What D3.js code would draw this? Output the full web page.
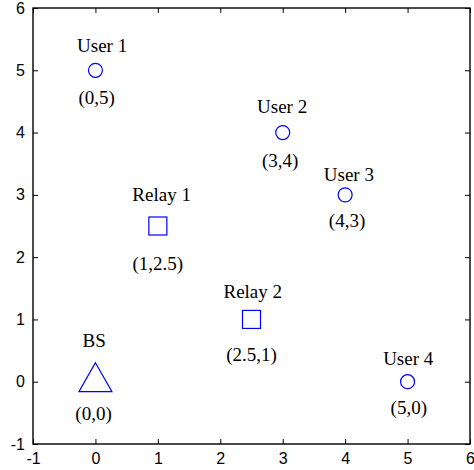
<!DOCTYPE html>
<html><head><meta charset="utf-8">
<script src="https://cdn.jsdelivr.net/npm/d3@7"></script>
<style>body{margin:0;background:#fff}svg{display:block}</style>
</head><body>
<svg id="c" width="474" height="470"></svg>
<script>
// Data
const nodeNames  = ["User 1","User 2","User 3","User 4","BS","Relay 1","Relay 2"];
const nodeX      = [0, 3, 4, 5, 0, 1, 2.5];
const nodeY      = [5, 4, 3, 0, 0, 2.5, 1];
const nodeType   = ["user","user","user","user","bs","relay","relay"];
const coordText  = ["(0,5)","(3,4)","(4,3)","(5,0)","(0,0)","(1,2.5)","(2.5,1)"];
// annotation anchor positions (data units), as placed with text() in the original
const nameLabelX  = [0.107, 2.99, 4.06, 5.01, -0.02, 1.06, 2.52];
const nameLabelY  = [5.29, 4.31, 3.22, 0.27, 0.55, 2.905, 1.34];
const coordLabelX = [0.02, 2.96, 4.03, 5.02, -0.03, 1.0, 2.50];
const coordLabelY = [4.46, 3.44, 2.49, -0.52, -0.61, 1.79, 0.34];
const xTicks = [-1,0,1,2,3,4,5,6];
const yTicks = [-1,0,1,2,3,4,5,6];

const svg = d3.select("#c");
const L = 33, R = 470, T = 8, B = 444;
const x = d3.scaleLinear().domain([-1,6]).range([L,R]);
const y = d3.scaleLinear().domain([-1,6]).range([B,T]);

const tickFont = "Liberation Sans, Arial, sans-serif";
const serif = "Liberation Serif, Times New Roman, serif";

const gx = svg.append("g").attr("transform",`translate(0,${B})`)
  .call(d3.axisBottom(x).tickValues(xTicks).tickSize(-5).tickPadding(9).tickFormat(d=>String(d)));
const gxt = svg.append("g").attr("transform",`translate(0,${T})`)
  .call(d3.axisTop(x).tickValues(xTicks).tickSize(-5).tickFormat(""));
const gy = svg.append("g").attr("transform",`translate(${L},0)`)
  .call(d3.axisLeft(y).tickValues(yTicks).tickSize(-5).tickPadding(8).tickFormat(d=>String(d)));
const gyr = svg.append("g").attr("transform",`translate(${R},0)`)
  .call(d3.axisRight(y).tickValues(yTicks).tickSize(-5).tickFormat(""));
[gx,gxt,gy,gyr].forEach(g=>{
  g.select(".domain").remove();
  g.selectAll("line").attr("stroke","#000").attr("stroke-width",1);
  g.selectAll("text").attr("font-family",tickFont).attr("font-size",16).attr("fill","#000");
});
svg.append("rect").attr("x",L).attr("y",T).attr("width",R-L).attr("height",B-T)
  .attr("fill","none").attr("stroke","#000").attr("stroke-width",1.4);

const blue = "#0000ff";
const data = nodeNames.map((n,i)=>({n, x:nodeX[i], y:nodeY[i], t:nodeType[i], c:coordText[i],
  nx:nameLabelX[i], ny:nameLabelY[i], cx:coordLabelX[i], cy:coordLabelY[i]}));

const g = svg.append("g");
data.forEach(d=>{
  const px = x(d.x), py = y(d.y);
  if (d.t==="user") {
    g.append("circle").attr("cx",px).attr("cy",py).attr("r",7)
      .attr("fill","none").attr("stroke",blue).attr("stroke-width",1.2);
  } else if (d.t==="relay") {
    g.append("rect").attr("x",px-9).attr("y",py-9).attr("width",18).attr("height",18)
      .attr("fill","none").attr("stroke",blue).attr("stroke-width",1.2);
  } else {
    g.append("path").attr("d",`M${px},${py-19}L${px+16.5},${py+10}L${px-16.5},${py+10}Z`)
      .attr("fill","none").attr("stroke",blue).attr("stroke-width",1.2);
  }
  g.append("text").attr("x",x(d.nx)).attr("y",y(d.ny)).attr("text-anchor","middle")
    .attr("font-family",serif).attr("font-size",19).attr("fill","#000").text(d.n);
  g.append("text").attr("x",x(d.cx)).attr("y",y(d.cy)).attr("text-anchor","middle")
    .attr("font-family",serif).attr("font-size",19).attr("fill","#000").text(d.c);
});
</script>
</body></html>
